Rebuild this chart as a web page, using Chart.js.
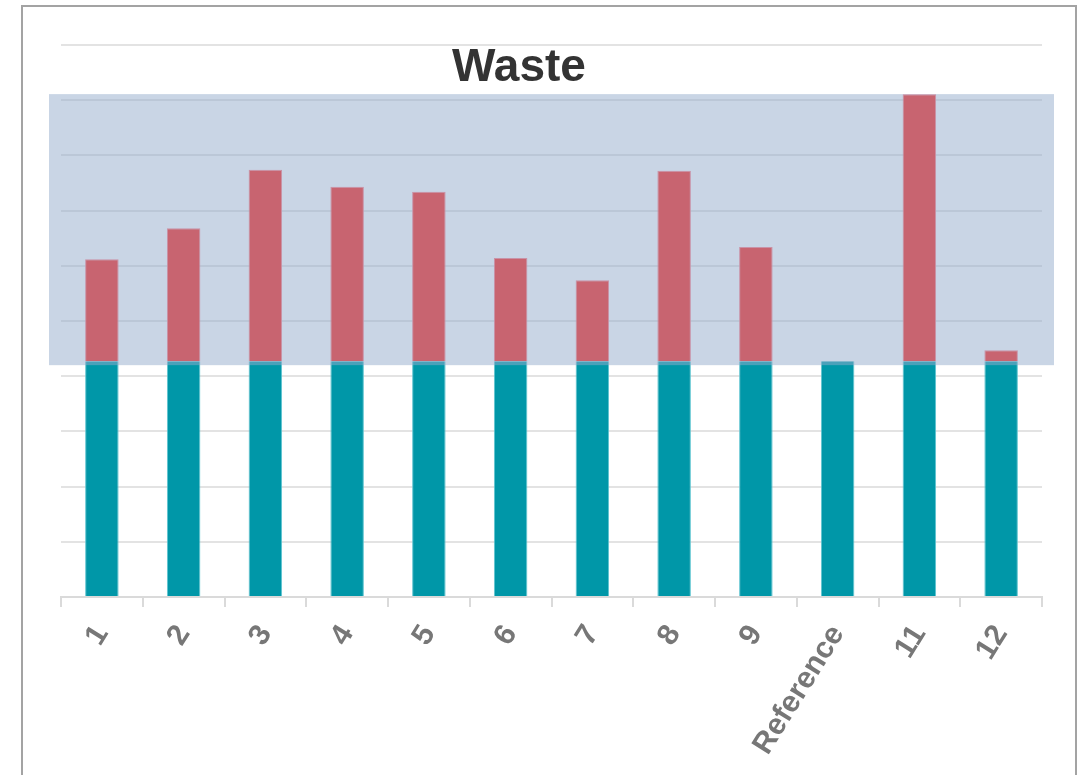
<!DOCTYPE html>
<html>
<head>
<meta charset="utf-8">
<title>Waste</title>
<script src="https://cdn.jsdelivr.net/npm/chart.js@4/dist/chart.umd.min.js"></script>
<style>
  html, body { margin: 0; padding: 0; background: #ffffff; overflow: hidden; }
  #wrap { position: relative; width: 1084px; height: 775px; }
  #frame {
    position: absolute; left: 21px; top: 5px; width: 1056px; height: 800px;
    border: 2px solid #a3a3a3; box-sizing: border-box;
  }
  #title {
    position: absolute; left: 419px; width: 200px; top: 42px;
    text-align: center; font: bold 46px "Liberation Sans", Arial, sans-serif;
    line-height: 46px; color: #333333; z-index: 2;
  }
  canvas { position: absolute; left: 0; top: 0; }
</style>
</head>
<body>
<div id="wrap">
  <div id="frame"></div>
  <canvas id="chart" width="1084" height="775"></canvas>
  <div id="title">Waste</div>
</div>
<script>
// Scenario labels along the x axis
const categories = ['1', '2', '3', '4', '5', '6', '7', '8', '9', 'Reference', '11', '12'];
// Base amount (same for every scenario)
const baseWaste = [4.27, 4.27, 4.27, 4.27, 4.27, 4.27, 4.27, 4.27, 4.27, 4.27, 4.27, 4.27];
// Additional amount stacked above the base
const extraWaste = [1.85, 2.41, 3.47, 3.16, 3.07, 1.87, 1.47, 3.45, 2.07, 0, 4.84, 0.20];
// Highlighted value range (low, high)
const highlightRange = [4.20, 9.11];
// Value axis
const yMin = 0, yMax = 10, yStep = 1;

// Translucent band laid over the bars for the highlighted range
const bandPlugin = {
  id: 'band',
  afterDatasetsDraw(chart) {
    const { ctx, chartArea, scales } = chart;
    const yTop = scales.y.getPixelForValue(highlightRange[1]);
    const yBot = scales.y.getPixelForValue(highlightRange[0]);
    ctx.save();
    ctx.fillStyle = 'rgba(147, 171, 203, 0.5)';
    ctx.fillRect(chartArea.left - 12, yTop, (chartArea.right - chartArea.left) + 24, yBot - yTop);
    ctx.restore();
  }
};

new Chart(document.getElementById('chart'), {
  type: 'bar',
  data: {
    labels: categories,
    datasets: [
      {
        label: 'Base',
        data: baseWaste,
        backgroundColor: '#0097a8',
        borderColor: '#5cc4d0',
        borderWidth: { left: 1, right: 1, top: 0, bottom: 0 },
        barPercentage: 0.41,
        categoryPercentage: 1.0
      },
      {
        label: 'Extra',
        data: extraWaste,
        backgroundColor: 'rgb(253, 28, 20)',
        borderColor: 'rgb(255, 120, 130)',
        borderWidth: { left: 1, right: 1, top: 1, bottom: 0 },
        barPercentage: 0.41,
        categoryPercentage: 1.0
      }
    ]
  },
  options: {
    responsive: false,
    animation: false,
    layout: { padding: { left: 61, right: 42, top: 45, bottom: 0 } },
    plugins: {
      legend: { display: false },
      title: { display: false },
      tooltip: { enabled: false }
    },
    scales: {
      x: {
        stacked: true,
        offset: true,
        border: { display: true, color: '#dadada', width: 2 },
        grid: {
          offset: true,
          drawOnChartArea: false,
          drawTicks: true,
          tickLength: 10,
          color: '#dadada',
          lineWidth: 2
        },
        ticks: {
          autoSkip: false,
          minRotation: 58,
          maxRotation: 58,
          padding: 12,
          color: '#777777',
          font: { family: '"Liberation Sans", Arial, sans-serif', size: 30, weight: 'bold' }
        },
        afterFit(scale) { scale.height = 178; }
      },
      y: {
        stacked: true,
        min: yMin,
        max: yMax,
        border: { display: false },
        grid: { color: '#e3e3e3', lineWidth: 2, drawTicks: false },
        ticks: { display: false, stepSize: yStep },
        afterFit(scale) { scale.width = 0; }
      }
    }
  },
  plugins: [bandPlugin]
});
</script>
</body>
</html>
